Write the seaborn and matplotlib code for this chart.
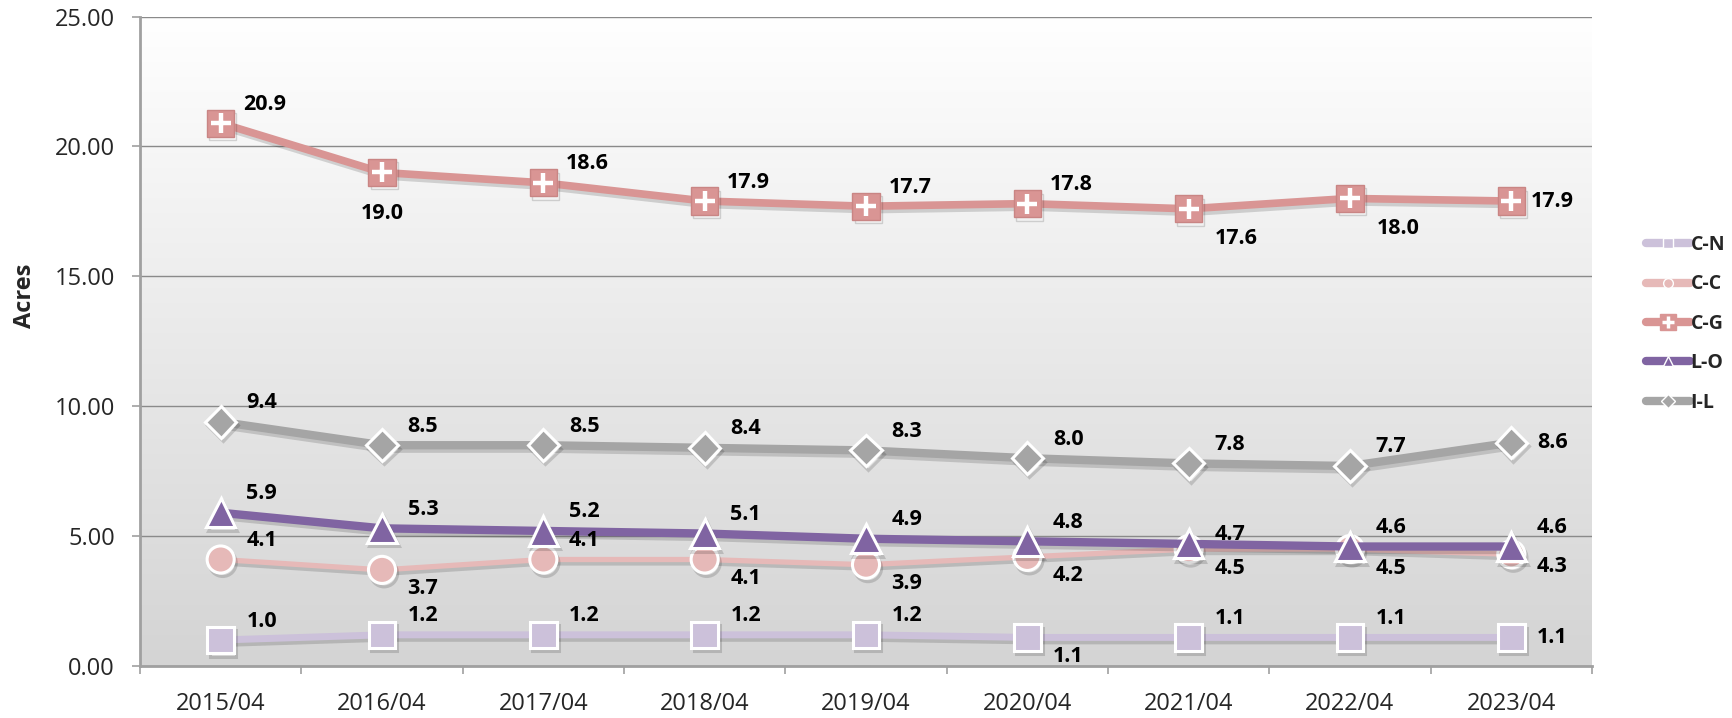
import numpy as np
import pandas as pd
import matplotlib
matplotlib.use('Agg')
import matplotlib.pyplot as plt
import matplotlib.patheffects as pe
from matplotlib.lines import Line2D
import seaborn as sns

# Chart values
years = ['2015/04', '2016/04', '2017/04', '2018/04', '2019/04',
         '2020/04', '2021/04', '2022/04', '2023/04']
c_n = [1.0, 1.2, 1.2, 1.2, 1.2, 1.1, 1.1, 1.1, 1.1]
c_c = [4.1, 3.7, 4.1, 4.1, 3.9, 4.2, 4.5, 4.5, 4.3]
c_g = [20.9, 19.0, 18.6, 17.9, 17.7, 17.8, 17.6, 18.0, 17.9]
l_o = [5.9, 5.3, 5.2, 5.1, 4.9, 4.8, 4.7, 4.6, 4.6]
i_l = [9.4, 8.5, 8.5, 8.4, 8.3, 8.0, 7.8, 7.7, 8.6]
series_names = ['C-N', 'C-C', 'C-G', 'L-O', 'I-L']

# where each value label sits relative to its marker
label_pos = {
    'C-N': ['ur', 'ur', 'ur', 'ur', 'ur', 'br', 'ur', 'ur', 'r'],
    'C-C': ['ur', 'br', 'ur', 'br', 'br', 'br', 'br', 'br', 'rl'],
    'C-G': ['UR', 'b', 'UR', 'UR', 'UR', 'UR', 'BR', 'BR', 'r'],
    'L-O': ['ur', 'ur', 'ur', 'ur', 'ur', 'ur', 'rh', 'ur', 'ur'],
    'I-L': ['ur', 'ur', 'ur', 'ur', 'ur', 'ur', 'ur', 'ur', 'r'],
}
# offsets in pixels (dx, dy up)
offsets = {'ur': (41, 19), 'UR': (44, 19), 'b': (0, -41), 'br': (41, -19),
           'BR': (48, -30), 'r': (41, 0), 'rh': (41, 9), 'rl': (41, -12)}

styles = {
    'C-N': dict(color='#ccc1da', marker='s', lw=5, ms=19),
    'C-C': dict(color='#e6b9b8', marker='o', lw=3.8, ms=19.5),
    'C-G': dict(color='#d99594', marker='s', lw=5.5, ms=19.5),
    'L-O': dict(color='#8064a2', marker='^', lw=6, ms=21),
    'I-L': dict(color='#a5a5a5', marker='D', lw=6, ms=16),
}

df = pd.DataFrame({'year': years, 'C-N': c_n, 'C-C': c_c, 'C-G': c_g,
                   'L-O': l_o, 'I-L': i_l})
df['x'] = np.arange(len(years))

sns.set_theme(style='white')
plt.rcParams['font.family'] = ['Open Sans', 'DejaVu Sans']

fig = plt.figure(figsize=(17.33, 7.18), dpi=100)
ax = fig.add_axes([140 / 1733, 52 / 718, 1452 / 1733, 649.4 / 718])

# gradient background
grad = np.linspace(0, 1, 256).reshape(-1, 1)
ax.imshow(grad, cmap=matplotlib.colors.LinearSegmentedColormap.from_list(
    'bg', ['#ffffff', '#d4d4d4']), aspect='auto',
    extent=(-0.5, 8.5, 0, 25), origin='upper', zorder=0)

shadow = [pe.SimpleLineShadow(offset=(1.5, -2.5), shadow_color='black', alpha=0.15), pe.Normal()]

draw_order = ['I-L', 'C-G', 'C-C', 'L-O', 'C-N']
for name in draw_order:
    st = styles[name]
    sns.lineplot(data=df, x='x', y=name, ax=ax, color=st['color'], linewidth=st['lw'],
                 marker=st['marker'], markersize=st['ms'], markeredgecolor='white',
                 markeredgewidth=2.2, zorder=3, path_effects=shadow)
    if name == 'C-G':
        ax.lines[-1].set_markeredgecolor('#c98584')
        ax.lines[-1].set_markeredgewidth(1)
        sns.lineplot(data=df, x='x', y=name, ax=ax, linestyle='none', marker='+',
                     markersize=15, markeredgewidth=3.2, color='white', zorder=4)

for name in series_names:
    for i, v in enumerate(df[name]):
        dx, dy = offsets[label_pos[name][i]]
        ax.annotate(f'{v:.1f}', (i, v), xytext=(dx, dy), textcoords='offset pixels',
                    ha='center', va='center', fontsize=15.5, fontweight='bold',
                    color='black', zorder=6)

ax.set_xlim(-0.5, 8.5)
ax.set_ylim(0, 25)
ax.set_yticks([0, 5, 10, 15, 20, 25])
ax.set_yticklabels([f'{t:.2f}' for t in [0, 5, 10, 15, 20, 25]], fontsize=17)
ax.set_xticks(range(len(years)))
ax.set_xticklabels(years, fontsize=17)
ax.set_xticks(np.arange(-0.5, 9, 1), minor=True)
ax.tick_params(axis='x', which='major', length=0, pad=19)
ax.tick_params(axis='x', which='minor', length=6, color='#a0a0a0', width=1.2, direction='out', bottom=True)
ax.tick_params(axis='y', length=6, color='#a0a0a0', width=1.2, direction='out', left=True, pad=12)
ax.grid(axis='y', color='#8a8a8a', linewidth=1)
ax.set_axisbelow(True)
for s in ['top', 'right']:
    ax.spines[s].set_visible(False)
for s in ['left', 'bottom']:
    ax.spines[s].set_color('#a0a0a0')
    ax.spines[s].set_linewidth(2)
ax.set_xlabel('')
ax.set_ylabel('Acres', fontsize=17, fontweight='bold')
ax.yaxis.set_label_coords(-0.071, 0.57)

# legend
handles = []
for name in series_names:
    st = styles[name]
    h = Line2D([], [], color=st['color'], lw=6, marker=st['marker'], markersize=7,
               markeredgecolor='white', markeredgewidth=1.0)
    if name == 'C-G':
        h = (Line2D([], [], color=st['color'], lw=6, marker='s', markersize=12,
                    markeredgecolor=st['color']),
             Line2D([], [], color='white', lw=0, marker='+', markersize=8, markeredgewidth=2.5))
    handles.append(h)
leg = fig.legend(handles, series_names, loc='center left', bbox_to_anchor=(1646 / 1733, 0.549),
                 frameon=False, handlelength=2.25, handletextpad=0.05, labelspacing=1.0,
                 borderpad=0, borderaxespad=0,
                 prop={'weight': 'bold', 'size': 14})

fig.savefig('out.png', dpi=100)
